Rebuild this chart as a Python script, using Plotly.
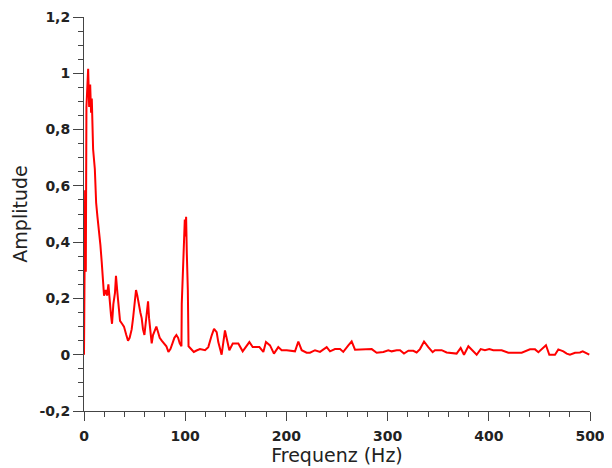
import plotly.graph_objects as go

freq = [0, 1.1, 1.8, 2.4, 4.1, 5.1, 6.1, 7.0, 7.7, 8.3, 9.0, 10.7, 12.0, 13.3, 14.9, 16.2, 17.5, 18.8,
        19.8, 21.5, 22.8, 24.1, 25.4, 26.7, 27.7, 29.0, 30.6, 31.6, 33.0, 34.3, 35.6, 37.6, 39.5,
        41.8, 43.5, 45.1, 47.1, 48.5, 49.8, 51.4, 52.7, 54.0, 55.7, 57.0, 58.3, 59.7, 61.0, 62.3,
        63.3, 64.3, 65.6, 66.9, 68.2, 69.9, 71.5, 73.2, 74.8, 76.8, 79.1, 81.4, 83.4, 85.4, 87.4,
        89.3, 91.3, 93.0, 94.6, 96.3, 96.6, 97.9, 98.6, 99.6, 100.2, 100.9, 101.6, 102.6, 103.3,
        105.6, 108.5, 111.2, 114.6, 119.6, 122.8, 126.2, 128.5, 131.1, 132.7, 136.0, 139.3, 143.6,
        147.0, 152.5, 156.8, 163.4, 166.7, 173.3, 177.2, 179.8, 183.8, 187.7, 192.0, 195.3, 200.3,
        208.5, 211.8, 215.1, 220.0, 223.3, 228.3, 233.2, 239.8, 243.1, 248.0, 253.0, 256.2, 261.2,
        264.5, 267.8, 276.0, 284.3, 289.2, 295.8, 300.7, 304.0, 309.0, 312.3, 316.2, 320.5, 325.4,
        328.7, 332.0, 336.0, 340.2, 344.5, 346.8, 353.4, 358.3, 368.2, 372.2, 375.5, 379.8, 384.1,
        388.0, 392.0, 396.2, 400.5, 404.4, 412.7, 419.3, 427.6, 432.5, 440.7, 445.7, 449.0, 452.3,
        456.5, 459.8, 465.4, 468.7, 473.7, 477.0, 480.2, 485.2, 490.1, 492.8, 496.7, 499.3]

amp = [0.0, 0.584, 0.295, 0.88, 1.016, 0.88, 0.96, 0.86, 0.91, 0.80, 0.73, 0.66, 0.54, 0.49, 0.44,
       0.39, 0.33, 0.26, 0.21, 0.23, 0.21, 0.25, 0.18, 0.14, 0.11, 0.18, 0.22, 0.28, 0.22, 0.18,
       0.12, 0.11, 0.10, 0.07, 0.05, 0.06, 0.09, 0.13, 0.19, 0.23, 0.21, 0.18, 0.15, 0.13, 0.09,
       0.07, 0.12, 0.15, 0.19, 0.13, 0.07, 0.04, 0.07, 0.09, 0.10, 0.08, 0.06, 0.05, 0.04, 0.03,
       0.01, 0.02, 0.04, 0.06, 0.07, 0.06, 0.04, 0.03, 0.18, 0.31, 0.44, 0.48, 0.42, 0.49, 0.36,
       0.23, 0.03, 0.02, 0.01, 0.015, 0.02, 0.016, 0.027, 0.069, 0.092, 0.08, 0.045, 0.0, 0.086,
       0.016, 0.04, 0.04, 0.012, 0.045, 0.027, 0.027, 0.01, 0.045, 0.033, 0.004, 0.027, 0.016,
       0.016, 0.012, 0.047, 0.016, 0.007, 0.007, 0.016, 0.01, 0.027, 0.012, 0.02, 0.02, 0.01,
       0.033, 0.047, 0.018, 0.018, 0.02, 0.007, 0.01, 0.016, 0.012, 0.016, 0.016, 0.004, 0.014,
       0.014, 0.008, 0.02, 0.047, 0.027, 0.009, 0.016, 0.016, 0.008, 0.004, 0.024, 0.0, 0.03,
       0.016, 0.0, 0.02, 0.016, 0.02, 0.016, 0.016, 0.007, 0.007, 0.007, 0.019, 0.019, 0.009,
       0.02, 0.034, 0.0, 0.0, 0.019, 0.012, 0.004, 0.0, 0.007, 0.008, 0.012, 0.004, 0.0]

x_ticks = [0, 100, 200, 300, 400, 500]
x_tick_labels = ["0", "100", "200", "300", "400", "500"]
y_ticks = [-0.2, 0, 0.2, 0.4, 0.6, 0.8, 1.0, 1.2]
y_tick_labels = ["-0,2", "0", "0,2", "0,4", "0,6", "0,8", "1", "1,2"]

fig = go.Figure()
fig.add_trace(go.Scatter(x=freq, y=amp, mode="lines",
                         line=dict(color="#ff0000", width=2), showlegend=False))

tickfont = dict(family="DejaVu Sans", size=14, color="#222222", weight="bold")
titlefont = dict(family="DejaVu Sans", size=19, color="#222222")

fig.update_layout(
    width=612, height=468,
    margin=dict(l=76, r=30, t=9, b=65),
    paper_bgcolor="white", plot_bgcolor="white",
    xaxis=dict(range=[0, 500], tickvals=x_ticks, ticktext=x_tick_labels,
               showline=True, linecolor="#444444", linewidth=1,
               ticks="outside", ticklen=9, tickcolor="#444444",
               minor=dict(dtick=20, tick0=0, ticks="outside", ticklen=5, tickcolor="#444444"),
               showgrid=False, zeroline=False, tickfont=tickfont, ticklabelstandoff=3,
               title=dict(text="Frequenz (Hz)", font=titlefont, standoff=4),
               automargin=False),
    yaxis=dict(range=[-0.2, 1.2], tickvals=y_ticks, ticktext=y_tick_labels,
               showline=True, linecolor="#444444", linewidth=1,
               ticks="outside", ticklen=10, tickcolor="#444444",
               minor=dict(dtick=0.05, tick0=0, ticks="outside", ticklen=5, tickcolor="#444444"),
               showgrid=False, zeroline=False, tickfont=tickfont,
               title=dict(text="Amplitude", font=titlefont, standoff=6),
               automargin=False),
)

fig.write_html("out.html")
